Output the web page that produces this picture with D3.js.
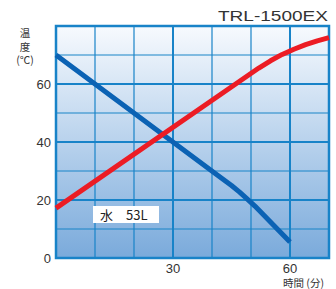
<!DOCTYPE html>
<html>
<head>
<meta charset="utf-8">
<script src="https://cdn.jsdelivr.net/npm/d3@7"></script>
<style>
  body { margin: 0; background: #fff; }
  svg { display: block; font-family: "Liberation Sans", Arial, sans-serif; }
</style>
</head>
<body>
<svg id="chart" width="336" height="289"></svg>
<script>
// data
var title = 'TRL-1500EX'
var waterLabel = '水　53L'
var xTicks = [30, 60]
var yTicks = [0, 20, 40, 60]
var yTitle = ['温', '度', '(℃)']
var xTitle = '時間 (分)'
var coolTime = [0, 41, 43, 45, 47, 49, 51, 60]
var coolTemp = [70, 29, 27, 25, 22.8, 20.4, 17.9, 5.5]
var heatTime = [0, 52, 55, 58, 61, 64, 67, 70]
var heatTemp = [17.2, 65.5, 68, 70.2, 72, 73.6, 74.9, 76]

var colorBlue = '#0b62b4'
var colorRed = '#ec1c24'
var colorGrid = '#1883c8'

var svg = d3.select('#chart')
var x = d3.scaleLinear().domain([0, 70]).range([56, 329])
var y = d3.scaleLinear().domain([0, 80]).range([258, 26])

// background gradient
var grad = svg.append('defs').append('linearGradient')
  .attr('id', 'bg').attr('x1', 0).attr('y1', 0).attr('x2', 0).attr('y2', 1)
grad.append('stop').attr('offset', '0%').attr('stop-color', '#f7fafe')
grad.append('stop').attr('offset', '100%').attr('stop-color', '#7aaadb')

svg.append('rect')
  .attr('x', x(0)).attr('y', y(80))
  .attr('width', x(70) - x(0)).attr('height', y(0) - y(80))
  .attr('fill', 'url(#bg)')

// grid
var g = svg.append('g')
d3.range(10, 80, 10).forEach(function(v) {
  g.append('line')
    .attr('x1', x(0)).attr('x2', x(70))
    .attr('y1', y(v)).attr('y2', y(v))
    .attr('stroke', colorGrid)
    .attr('stroke-width', v % 20 === 0 ? 2 : 1.2)
})
d3.range(10, 70, 10).forEach(function(v) {
  g.append('line')
    .attr('y1', y(0)).attr('y2', y(80))
    .attr('x1', x(v)).attr('x2', x(v))
    .attr('stroke', colorGrid)
    .attr('stroke-width', v % 30 === 0 ? 2 : 1.2)
})
svg.append('rect')
  .attr('x', x(0)).attr('y', y(80))
  .attr('width', x(70) - x(0)).attr('height', y(0) - y(80))
  .attr('fill', 'none').attr('stroke', colorGrid).attr('stroke-width', 2.5)

// water label
svg.append('rect')
  .attr('x', 93).attr('y', 206).attr('width', 66).attr('height', 17)
  .attr('fill', '#fff')
svg.append('text')
  .attr('x', 100).attr('y', 219.5)
  .attr('font-family', '"Noto Sans CJK JP", sans-serif')
  .attr('font-size', 13).attr('fill', '#222')
  .text(waterLabel)

// lines
var line = d3.line().x(function(d) { return x(d[0]) }).y(function(d) { return y(d[1]) })

svg.append('path')
  .datum(d3.zip(coolTime, coolTemp))
  .attr('d', line)
  .attr('fill', 'none').attr('stroke', colorBlue).attr('stroke-width', 5)
  .attr('stroke-linejoin', 'round')

svg.append('path')
  .datum(d3.zip(heatTime, heatTemp))
  .attr('d', line)
  .attr('fill', 'none').attr('stroke', colorRed).attr('stroke-width', 5)
  .attr('stroke-linejoin', 'round')

// axes labels
svg.selectAll('.ytick').data(yTicks).enter().append('text')
  .attr('x', 51).attr('y', function(d) { return y(d) + 5 })
  .attr('text-anchor', 'end').attr('font-size', 13).attr('fill', '#333')
  .text(function(d) { return d })

svg.selectAll('.xtick').data(xTicks).enter().append('text')
  .attr('x', function(d) { return x(d) }).attr('y', 273)
  .attr('text-anchor', 'middle').attr('font-size', 13).attr('fill', '#333')
  .text(function(d) { return d })

svg.append('text')
  .attr('x', 283).attr('y', 287)
  .attr('font-family', '"Noto Sans CJK JP", sans-serif')
  .attr('font-size', 10.5).attr('fill', '#333')
  .text(xTitle)

yTitle.forEach(function(t, i) {
  svg.append('text')
    .attr('x', 25).attr('y', 37 + i * 13.5).attr('text-anchor', 'middle')
    .attr('font-family', '"Noto Sans CJK JP", sans-serif')
    .attr('font-size', 10.5).attr('fill', '#333')
    .text(t)
})

svg.append('text')
  .attr('x', 328).attr('y', 21).attr('text-anchor', 'end')
  .attr('font-size', 15).attr('fill', '#333')
  .attr('textLength', 110).attr('lengthAdjust', 'spacingAndGlyphs')
  .text(title)
</script>
</body>
</html>
